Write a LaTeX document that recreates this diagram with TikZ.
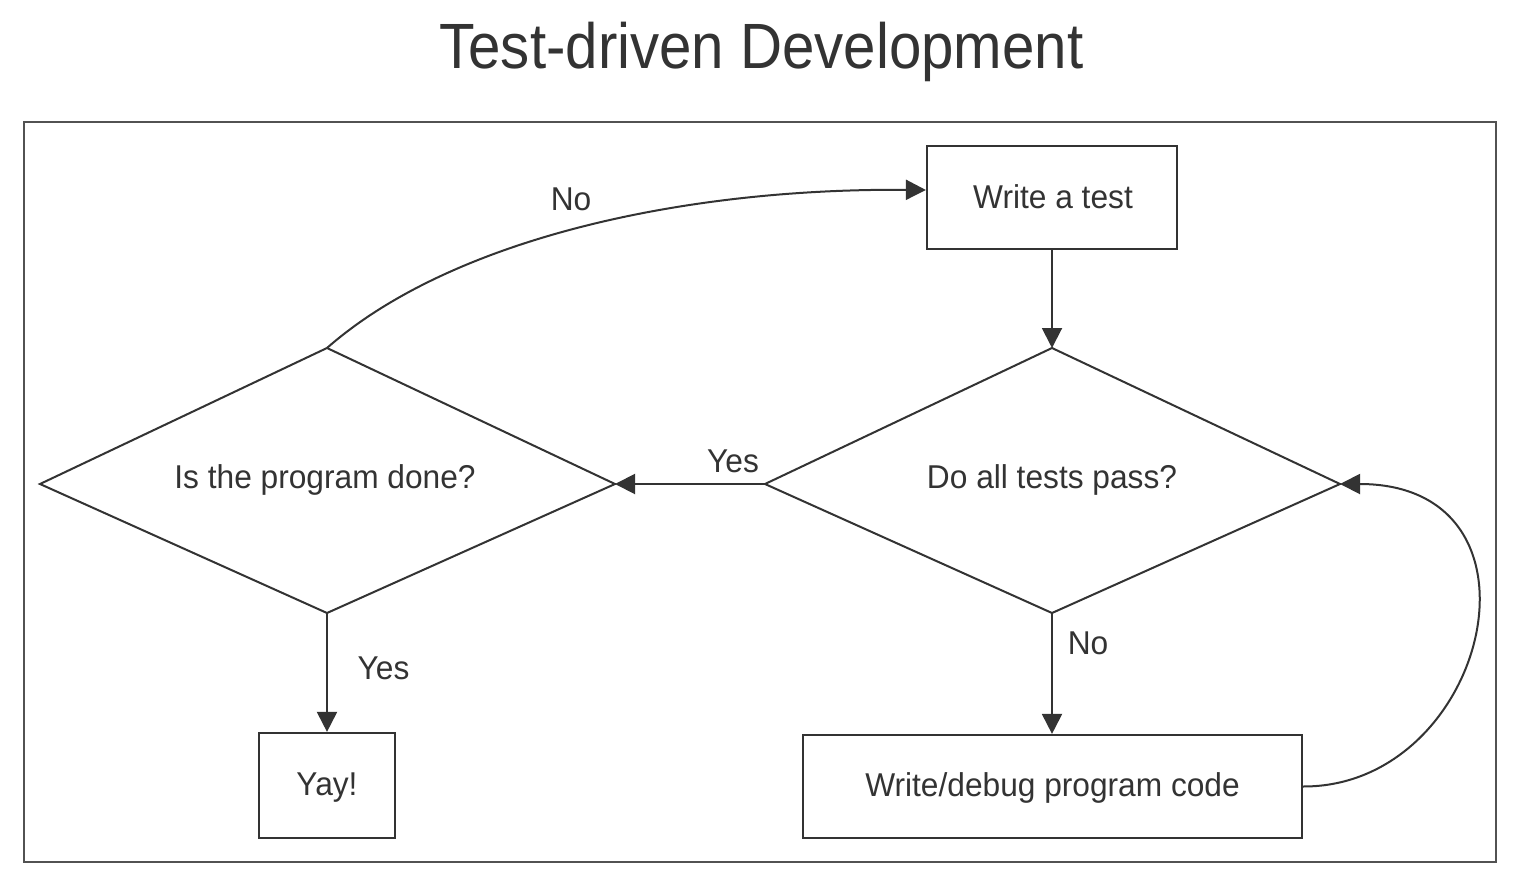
\documentclass[tikz,border=0pt]{standalone}
\usepackage{fontspec}
\setmainfont[FakeStretch=0.96]{Liberation Sans}
\newfontfamily\titlefont[FakeStretch=0.91]{Liberation Sans}
\usetikzlibrary{arrows.meta}
\definecolor{ink}{HTML}{333333}
\begin{document}
\begin{tikzpicture}[x=1pt,y=-1pt,
  txt/.style={text=ink, inner sep=0pt, font=\fontsize{33}{36}\selectfont, text height=23.6pt, text depth=0pt},
  box/.style={txt, draw=ink, line width=2.2pt},
  shape line/.style={draw=ink, line width=2pt, line join=miter},
  conn/.style={draw=ink, line width=2pt, -{Triangle[length=20pt,width=20pt]}},
  frame/.style={draw=ink!85, line width=2pt}]
\useasboundingbox (0,0) rectangle (1520,888);
% title
\node[text=ink, inner sep=0pt, font=\titlefont\fontsize{64}{70}\selectfont, text height=45.8pt, text depth=0pt] (title) at (761.5,46) {Test-driven Development};
% frame
\draw[frame] (24,122) rectangle (1496,862);
% boxes
\node[box, minimum width=250pt, minimum height=103pt] (write) at (1052,197.5) {};
\node[txt] (writetxt) at (1053,197) {Write a test};
\node[box, minimum width=136pt, minimum height=105pt] (yay) at (327,785.5) {};
\node[txt] (yaytxt) at (327,783.5) {Yay!};
\node[box, minimum width=499pt, minimum height=103pt] (code) at (1052.5,786.5) {};
\node[txt] (codetxt) at (1052.5,785) {Write/debug program code};
% diamond: do all tests pass
\coordinate (d2t) at (1052,348);
\coordinate (d2r) at (1340,484);
\coordinate (d2b) at (1052,613);
\coordinate (d2l) at (765,484);
\draw[shape line] (d2t) -- (d2r) -- (d2b) -- (d2l) -- cycle;
\node[txt] (d2txt) at (1052,476.5) {Do all tests pass?};
% diamond: is the program done
\coordinate (d1t) at (327,348);
\coordinate (d1r) at (615,484);
\coordinate (d1b) at (327,613);
\coordinate (d1l) at (40,484);
\draw[shape line] (d1t) -- (d1r) -- (d1b) -- (d1l) -- cycle;
\node[txt] (d1txt) at (325,477) {Is the program done?};
% connectors
\draw[conn] (write.south) -- (d2t);
\draw[conn] (d2l) -- (d1r);
\draw[conn] (d2b) -- (d2b |- code.north);
\draw[conn] (d1b) -- (yay.north);
\coordinate (noend) at (write.west |- 0,190);
\draw[conn] (d1t) .. controls (450,240) and (680,188) .. (noend);
\draw[conn] (code.east) .. controls (1488,787) and (1560,484) .. (d2r);
% labels
\node[txt] (lno1) at (571,198.5) {No};
\node[txt] (lyes1) at (733,460.5) {Yes};
\node[txt] (lno2) at (1088,643) {No};
\node[txt] (lyes2) at (383.5,668) {Yes};
\end{tikzpicture}
\end{document}
